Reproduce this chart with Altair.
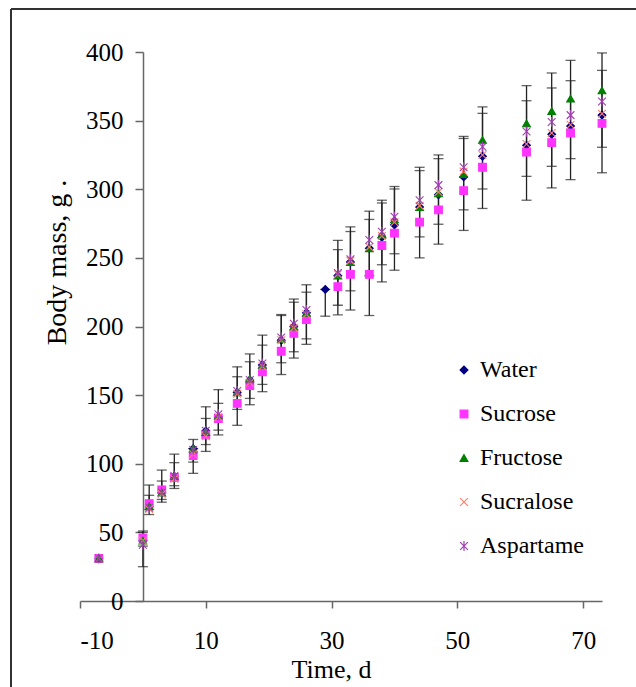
import altair as alt
import pandas as pd

# ---- data ----
t = [-7, 0, 1, 3, 5, 8, 10, 12, 15, 17, 19, 22, 24, 26, 29, 31, 33, 36, 38, 40, 44, 47, 51, 54, 61, 65, 68, 73]

water = [31, 44, 69, 79, 91, 111, 124, 134, 152, 161, 172, 190, 200, 210, 227, 237, 247, 257, 265, 274, 287, 296, 309, 324, 332, 340, 346, 354]
sucrose = [31, 46, 71, 81, 90, 106, 121, 133, 144, 157, 167, 182, 195, 205, None, 229, 238, 238, 259, 268, 276, 285, 299, 316, 327, 334, 341, 348]
fructose = [31, 44, 69, 79, 91, 111, 123, 135, 152, 162, 172, 191, 200, 210, None, 237, 247, 257, 267, 278, 287, 297, 311, 336, 348, 357, 366, 372]
sucralose = [31, 44, 67, 78, 89, 107, 120, 134, 151, 159, 171, 190, 199, 209, None, 238, 248, 258, 266, 276, 288, 298, 313, 325, 333, 341, 347, 355]
aspartame = [31, 41, 68, 79, 91, 110, 124, 136, 153, 161, 173, 192, 202, 212, None, 239, 249, 263, 269, 280, 292, 303, 316, 331, 342, 349, 354, 364]

errA_lo = [None, 25, 63, 72, 82, 93, 109, 121, 128, 143, 152.5, 165, 177, 187, 207.5, 208.5, 212, 208, 232.5, 241, 250, 260, 270, 286, 292, 301, 307, 312]
errA_hi = [None, 51, 84.5, 95.4, 107, 117.7, 141.5, 154, 170.6, 180, 193.7, 208.7, 220, 230.4, 227, 262.8, 272.6, 284, 292, 302, 316, 325, 338.5, 360, 375.5, 384.7, 393.9, 399.3]
errB_lo = [None, 40, 66.8, 74, 84, 101.2, 114, 124.5, 139.6, 147.6, 157.8, 173.6, 181.6, 191, None, 215.5, 226, 237, 245, 253, 265.3, 274.5, 285, 300.2, 309.4, 316.7, 322.3, 330.6]
errB_hi = [None, 50, 77, 87.4, 100.8, 111, 133, 144, 163.4, 174.3, 186.4, 208, 217.7, 225, None, 256, 269.2, 278, 290, 300.2, 313.6, 322.3, 337, 355.3, 364.5, 373.8, 379.1, 386.6]

series_names = ["Water", "Sucrose", "Fructose", "Sucralose", "Aspartame"]
series_colors = ["#000080", "#FF33FF", "#008000", "#FF8070", "#A040B0"]
series_shapes = [
    "diamond",
    "square",
    "triangle-up",
    "M-1,-1L1,1M-1,1L1,-1",
    "M-1,-1L1,1M-1,1L1,-1M0,-1.3L0,1.3",
]
x_ticks = [-10, 10, 30, 50, 70]
y_ticks = [0, 50, 100, 150, 200, 250, 300, 350, 400]

# ---- tables ----
pts = []
for name, vals in zip(series_names, [water, sucrose, fructose, sucralose, aspartame]):
    for tt, v in zip(t, vals):
        if v is not None:
            pts.append({"t": tt, "v": v, "series": name, "order": series_names.index(name)})
pts = pd.DataFrame(pts)

err = []
for lo_arr, hi_arr, tag in [(errA_lo, errA_hi, "A"), (errB_lo, errB_hi, "B")]:
    for tt, lo, hi in zip(t, lo_arr, hi_arr):
        if lo is not None and hi is not None:
            err.append({"t": tt, "lo": lo, "hi": hi, "set": tag})
err = pd.DataFrame(err)

FONT = "Liberation Serif"
xs = alt.Scale(domain=[-10, 73], nice=False, zero=False)
ys = alt.Scale(domain=[0, 400], nice=False, zero=False)

xaxis = alt.Axis(
    values=x_ticks, title="Time, d", grid=False, labelExpr="datum.value + ''",
    tickSize=7, tickWidth=1.5, tickColor="#666", domainColor="#666", domainWidth=1.5,
    labelFont=FONT, labelFontSize=25, labelColor="black", labelPadding=20,
    titleFont=FONT, titleFontSize=26, titleFontWeight="normal", titleColor="black",
    titleX=251, titleY=68, titleAlign="center", titleBaseline="middle",
)
yaxis = alt.Axis(
    values=y_ticks, title="Body mass, g .", grid=False, offset=-63,
    tickSize=8, tickWidth=1.5, tickColor="#666", domainColor="#666", domainWidth=1.5,
    labelFont=FONT, labelFontSize=25, labelColor="black", labelPadding=12,
    titleFont=FONT, titleFontSize=28, titleFontWeight="normal", titleColor="black",
    titleAngle=-90, titleX=-86, titleY=210, titleAlign="center", titleBaseline="middle",
)

X = alt.X("t:Q", scale=xs, axis=xaxis)

bars = alt.Chart(err).mark_rule(color="#222", strokeWidth=1.3).encode(
    x=X,
    y=alt.Y("lo:Q", scale=ys, axis=yaxis),
    y2="hi:Q",
)
caps = alt.Chart(err).transform_fold(["lo", "hi"], as_=["end", "val"]).mark_tick(
    orient="horizontal", size=10, thickness=1.3, color="#222"
).encode(
    x=X,
    y=alt.Y("val:Q", scale=ys, axis=yaxis),
)

leg = alt.Legend(
    title=None, orient="none", legendX=372, legendY=306, padding=0,
    labelFont=FONT, labelFontSize=24, labelColor="black", labelOffset=4,
    rowPadding=20, symbolSize=60, symbolStrokeWidth=1.2,
)
pts_layer = alt.Chart(pts).mark_point(filled=True, size=60, strokeWidth=1.1, opacity=1).encode(
    x=X,
    y=alt.Y("v:Q", scale=ys, axis=yaxis),
    fill=alt.Fill("series:N", scale=alt.Scale(domain=series_names, range=series_colors), legend=leg),
    stroke=alt.Stroke("series:N", scale=alt.Scale(domain=series_names, range=series_colors), legend=leg),
    shape=alt.Shape("series:N", scale=alt.Scale(domain=series_names, range=series_shapes), legend=leg),
    order=alt.Order("order:Q"),
)

frame_top = alt.Chart(pts).mark_rule(color="#333", strokeWidth=1.5).encode(
    x=alt.value(-69), x2=alt.value(620), y=alt.value(-43)
)
frame_left = alt.Chart(pts).mark_rule(color="#333", strokeWidth=1.5).encode(
    x=alt.value(-69), y=alt.value(-43), y2=alt.value(700)
)

chart = alt.layer(bars, caps, pts_layer, frame_top, frame_left).properties(
    width=522, height=549,
    padding={"left": 80, "top": 52, "right": 34, "bottom": 86},
    autosize=alt.AutoSizeParams(type="none"),
    background="white",
).configure_view(strokeWidth=0)

chart.save("out.html", embed_options={"renderer": "svg", "actions": False})
